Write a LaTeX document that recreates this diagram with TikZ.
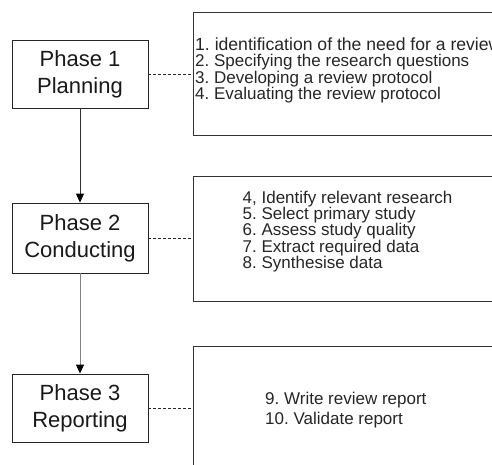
\documentclass[tikz,border=0pt]{standalone}
\usepackage{fontspec}
\setmainfont{Liberation Sans}
\usetikzlibrary{arrows.meta}
\frenchspacing
\begin{document}
\begin{tikzpicture}[x=1pt,y=-1pt,
  phase/.style={draw=black!85,line width=0.9pt,minimum width=136pt,minimum height=68pt,
    align=center,inner sep=0pt,font=\fontsize{22}{27}\selectfont,text=black!90},
  stepbox/.style={draw=black!80,line width=0.9pt,minimum width=320pt,inner sep=0pt},
  items/.style={align=left,inner sep=0pt,anchor=base west,font=\fontsize{17}{16.3}\selectfont,text=black!85},
  link/.style={draw=black!85,line width=0.8pt,dash pattern=on 3pt off 2pt},
  flow/.style={line width=1pt,-{Triangle[length=9pt,width=8pt,color=black]}}]
\useasboundingbox (0,0) rectangle (492,464);
\fill[white] (0,0) rectangle (492,464);
\clip (0,0) rectangle (492,464);

% phase boxes
\node[phase] (p1) at (80,74) {Phase 1\\Planning};
\node[phase,minimum height=70pt] (p2) at (80,238) {Phase 2\\Conducting};
\node[phase] (p3) at (80,408) {Phase 3\\Reporting};

% activity boxes, running off the right edge
\node[stepbox,minimum height=123pt,anchor=north west] (b1) at (193,12) {};
\node[stepbox,minimum height=125pt,anchor=north west] (b2) at (193,176) {};
\node[stepbox,minimum height=124pt,anchor=north west] (b3) at (193,346) {};

% activity lists (anchored at the baseline of their last line)
\node[items] (t1) at (195,99.5) {{\fontsize{17.6}{16.3}\selectfont 1. identification of the need for a review}\\2. Specifying the research questions\\3. Developing a review protocol\\4. Evaluating the review protocol};
\node[items] (t2) at (242.5,268.5) {4, Identify relevant research\\5. Select primary study\\6. Assess study quality\\7. Extract required data\\8. Synthesise data};
\node[items,font=\fontsize{17}{20}\selectfont] (t3) at (265,424.5) {9. Write review report\\10. Validate report};

% dashed links
\draw[link] (p1.east) -- (p1.east -| b1.west);
\draw[link] (p2.east) -- (p2.east -| b2.west);
\draw[link] (p3.east) -- (p3.east -| b3.west);

% flow between phases
\draw[flow,draw=black!80] (p1.south) -- (p2.north);
\draw[flow,draw=black!50] (p2.south) -- (p3.north);
\end{tikzpicture}
\end{document}
